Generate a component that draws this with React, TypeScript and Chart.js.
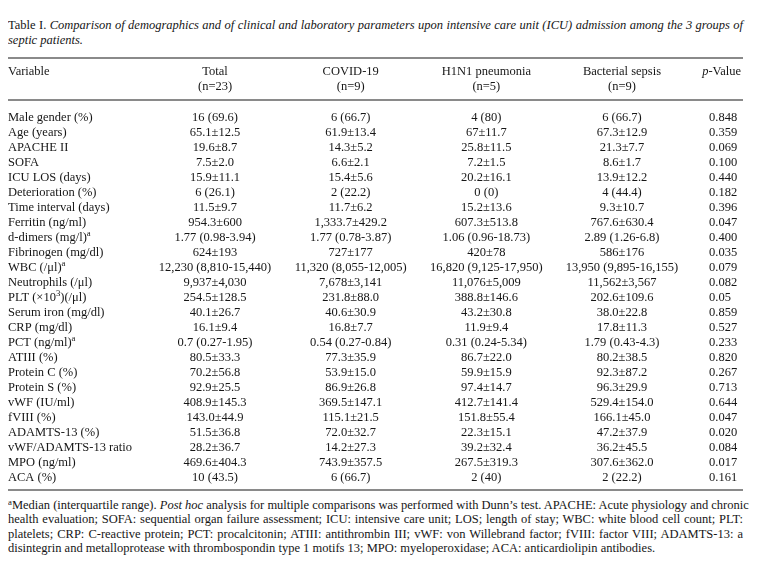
import React, { useEffect, useRef } from 'react';
import { Chart, registerables } from 'chart.js';

Chart.register(...registerables);

const SERIF = '"Liberation Serif", "Times New Roman", Times, serif';
const FS = 12.5;
const TEXT = '#161616';
const RULE = '#8a8a8a';

// ---- data ----
const groupNames = ['Total', 'COVID-19', 'H1N1 pneumonia', 'Bacterial sepsis'];
const groupCounts = ['(n=23)', '(n=9)', '(n=5)', '(n=9)'];

const rowLabels = [
  'Male gender (%)',
  'Age (years)',
  'APACHE II',
  'SOFA',
  'ICU LOS (days)',
  'Deterioration (%)',
  'Time interval (days)',
  'Ferritin (ng/ml)',
  'd-dimers (mg/l)^{a}',
  'Fibrinogen (mg/dl)',
  'WBC (/μl)^{a}',
  'Neutrophils (/μl)',
  'PLT (×10^{3})(/μl)',
  'Serum iron (mg/dl)',
  'CRP (mg/dl)',
  'PCT (ng/ml)^{a}',
  'ATIII (%)',
  'Protein C (%)',
  'Protein S (%)',
  'vWF (IU/ml)',
  'fVIII (%)',
  'ADAMTS-13 (%)',
  'vWF/ADAMTS-13 ratio',
  'MPO (ng/ml)',
  'ACA (%)',
];

const totalValues = [
  '16 (69.6)', '65.1±12.5', '19.6±8.7', '7.5±2.0', '15.9±11.1', '6 (26.1)', '11.5±9.7',
  '954.3±600', '1.77 (0.98-3.94)', '624±193', '12,230 (8,810-15,440)', '9,937±4,030',
  '254.5±128.5', '40.1±26.7', '16.1±9.4', '0.7 (0.27-1.95)', '80.5±33.3', '70.2±56.8',
  '92.9±25.5', '408.9±145.3', '143.0±44.9', '51.5±36.8', '28.2±36.7', '469.6±404.3', '10 (43.5)',
];
const covidValues = [
  '6 (66.7)', '61.9±13.4', '14.3±5.2', '6.6±2.1', '15.4±5.6', '2 (22.2)', '11.7±6.2',
  '1,333.7±429.2', '1.77 (0.78-3.87)', '727±177', '11,320 (8,055-12,005)', '7,678±3,141',
  '231.8±88.0', '40.6±30.9', '16.8±7.7', '0.54 (0.27-0.84)', '77.3±35.9', '53.9±15.0',
  '86.9±26.8', '369.5±147.1', '115.1±21.5', '72.0±32.7', '14.2±27.3', '743.9±357.5', '6 (66.7)',
];
const h1n1Values = [
  '4 (80)', '67±11.7', '25.8±11.5', '7.2±1.5', '20.2±16.1', '0 (0)', '15.2±13.6',
  '607.3±513.8', '1.06 (0.96-18.73)', '420±78', '16,820 (9,125-17,950)', '11,076±5,009',
  '388.8±146.6', '43.2±30.8', '11.9±9.4', '0.31 (0.24-5.34)', '86.7±22.0', '59.9±15.9',
  '97.4±14.7', '412.7±141.4', '151.8±55.4', '22.3±15.1', '39.2±32.4', '267.5±319.3', '2 (40)',
];
const bacterialValues = [
  '6 (66.7)', '67.3±12.9', '21.3±7.7', '8.6±1.7', '13.9±12.2', '4 (44.4)', '9.3±10.7',
  '767.6±630.4', '2.89 (1.26-6.8)', '586±176', '13,950 (9,895-16,155)', '11,562±3,567',
  '202.6±109.6', '38.0±22.8', '17.8±11.3', '1.79 (0.43-4.3)', '80.2±38.5', '92.3±87.2',
  '96.3±29.9', '529.4±154.0', '166.1±45.0', '47.2±37.9', '36.2±45.5', '307.6±362.0', '2 (22.2)',
];
const pValues = [
  '0.848', '0.359', '0.069', '0.100', '0.440', '0.182', '0.396', '0.047', '0.400', '0.035',
  '0.079', '0.082', '0.05', '0.859', '0.527', '0.233', '0.820', '0.267', '0.713', '0.644',
  '0.047', '0.020', '0.084', '0.017', '0.161',
];
const groupValues = [totalValues, covidValues, h1n1Values, bacterialValues];

const variableHeader = 'Variable';
const pHeader = '_p_-Value';

// ---- rich text on canvas ----
type Seg = { t: string; sup?: boolean; it?: boolean };
function parseRich(s: string): Seg[] {
  const out: Seg[] = [];
  const re = /\^\{([^}]*)\}|_([^_]*)_/g;
  let last = 0;
  let m: RegExpExecArray | null;
  while ((m = re.exec(s))) {
    if (m.index > last) out.push({ t: s.slice(last, m.index) });
    if (m[1] !== undefined) out.push({ t: m[1], sup: true });
    else out.push({ t: m[2], it: true });
    last = re.lastIndex;
  }
  if (last < s.length) out.push({ t: s.slice(last) });
  return out;
}
function segFont(g: Seg) {
  return `${g.it ? 'italic ' : ''}${g.sup ? FS * 0.7 : FS}px ${SERIF}`;
}
function drawRich(ctx: CanvasRenderingContext2D, s: string, x: number, y: number, align: string) {
  const segs = parseRich(s);
  let w = 0;
  for (const g of segs) {
    ctx.font = segFont(g);
    w += ctx.measureText(g.t).width;
  }
  let cx = align === 'left' ? x : align === 'right' ? x - w : x - w / 2;
  ctx.textAlign = 'left';
  ctx.textBaseline = 'alphabetic';
  for (const g of segs) {
    ctx.font = segFont(g);
    ctx.fillText(g.t, cx, g.sup ? y - FS * 0.36 : y);
    cx += ctx.measureText(g.t).width;
  }
}

const BASE = 4.3; // visual centre -> baseline

const tablePlugin = {
  id: 'tableText',
  afterDraw(chart: any) {
    const { ctx, scales, width } = chart;
    const xs = scales.x;
    const ys = scales.y;
    const first = ys.getPixelForValue(0);
    const last = ys.getPixelForValue(rowLabels.length - 1);
    ctx.save();
    // rules
    ctx.fillStyle = RULE;
    const rule = (yy: number) => ctx.fillRect(0, Math.round(yy) - 1, width, 2);
    rule(first - 58.5);
    rule(first - 16.5);
    rule(last + 13);
    ctx.fillStyle = TEXT;
    // header
    const h1 = first - 45.5 + BASE;
    const h2 = first - 30.5 + BASE;
    drawRich(ctx, variableHeader, 0, h1, 'left');
    drawRich(ctx, pHeader, width - 2, h1, 'right');
    groupNames.forEach((g, j) => {
      const px = xs.getPixelForValue(j);
      drawRich(ctx, g, px, h1, 'center');
      drawRich(ctx, groupCounts[j], px, h2, 'center');
    });
    // body
    rowLabels.forEach((lab, i) => {
      const py = ys.getPixelForValue(i) + BASE;
      drawRich(ctx, lab, 0, py, 'left');
      groupValues.forEach((vals, j) => {
        drawRich(ctx, vals[i], xs.getPixelForValue(j), py, 'center');
      });
      drawRich(ctx, pValues[i], width - 34, py, 'left');
    });
    ctx.restore();
  },
};

const lineBase: React.CSSProperties = {
  position: 'absolute',
  left: 0,
  width: 735,
  fontSize: FS,
  lineHeight: '15px',
  whiteSpace: 'nowrap',
};
const just: React.CSSProperties = { ...lineBase, textAlign: 'justify', textAlignLast: 'justify' as any };
const supStyle: React.CSSProperties = { fontSize: '0.7em', verticalAlign: 'baseline', position: 'relative', top: '-0.45em' };

export default function App() {
  const ref = useRef<HTMLCanvasElement | null>(null);
  useEffect(() => {
    if (!ref.current) return;
    const chart = new Chart(ref.current, {
      type: 'scatter',
      data: { datasets: [{ data: [], pointRadius: 0 }] },
      options: {
        animation: false,
        responsive: false,
        devicePixelRatio: 1,
        events: [],
        layout: { padding: { left: 139.2, right: 53.2, top: 59, bottom: 11 } },
        plugins: { legend: { display: false }, tooltip: { enabled: false } },
        scales: {
          x: { type: 'category', labels: groupNames, offset: true, display: false },
          y: { type: 'category', labels: rowLabels, offset: true, display: false },
        },
      },
      plugins: [tablePlugin],
    } as any);
    return () => chart.destroy();
  }, []);

  return (
    <div style={{ position: 'relative', width: 735, height: 562, fontFamily: SERIF, color: TEXT }}>
      <div style={{ ...just, top: 9.6 }}>
        Table I. <i>Comparison of demographics and of clinical and laboratory parameters upon intensive care unit (ICU) admission among the 3 groups of</i>
      </div>
      <div style={{ ...lineBase, top: 25.1 }}>
        <i>septic patients.</i>
      </div>
      <canvas ref={ref} width={735} height={445} style={{ position: 'absolute', left: 0, top: 42, width: 735, height: 445 }} />
      <div style={{ ...just, top: 489.6 }}>
        <span style={supStyle}>a</span>Median (interquartile range). <i>Post hoc</i> analysis for multiple comparisons was performed with Dunn’s test. APACHE: Acute physiology and chronic
      </div>
      <div style={{ ...just, top: 504.1 }}>
        health evaluation; SOFA: sequential organ failure assessment; ICU: intensive care unit; LOS; length of stay; WBC: white blood cell count; PLT:
      </div>
      <div style={{ ...just, top: 518.6 }}>
        platelets; CRP: C-reactive protein; PCT: procalcitonin; ATIII: antithrombin III; vWF: von Willebrand factor; fVIII: factor VIII; ADAMTS-13: a
      </div>
      <div style={{ ...lineBase, top: 533.1 }}>
        disintegrin and metalloprotease with thrombospondin type 1 motifs 13; MPO: myeloperoxidase; ACA: anticardiolipin antibodies.
      </div>
    </div>
  );
}
